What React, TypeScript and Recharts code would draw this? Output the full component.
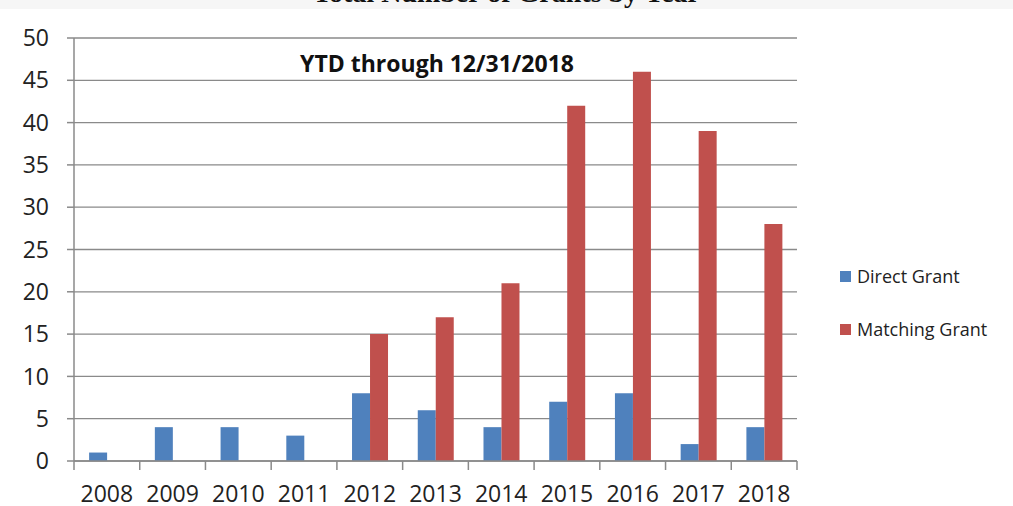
import React from 'react';
import { BarChart, Bar, XAxis, YAxis, CartesianGrid, Legend } from 'recharts';

const years = ['2008', '2009', '2010', '2011', '2012', '2013', '2014', '2015', '2016', '2017', '2018'];
const directGrant = [1, 4, 4, 3, 8, 6, 4, 7, 8, 2, 4];
const matchingGrant = [0, 0, 0, 0, 15, 17, 21, 42, 46, 39, 28];
const yTicks = [0, 5, 10, 15, 20, 25, 30, 35, 40, 45, 50];

const data = years.map((year, i) => ({
  year,
  direct: directGrant[i],
  matching: matchingGrant[i],
}));

const FONT = '"Open Sans", "DejaVu Sans", sans-serif';
const AXIS_GRAY = '#8a8a8a';
const X_TICK_MARGIN = 25;
const EDGE_TICK = 9;

// year label plus the tick marks that sit on the band edges (Excel style)
const YearTick = (props: any) => {
  const { x, y, payload, index, visibleTicksCount, width } = props;
  const half = payload && typeof payload.offset === 'number' ? payload.offset : width / visibleTicksCount / 2;
  const axisY = y - X_TICK_MARGIN;
  const isLast = index === visibleTicksCount - 1;
  return (
    <g>
      <line x1={x - half} x2={x - half} y1={axisY} y2={axisY + EDGE_TICK} stroke={AXIS_GRAY} strokeWidth={1.5} />
      {isLast && (
        <line x1={x + half} x2={x + half} y1={axisY} y2={axisY + EDGE_TICK} stroke={AXIS_GRAY} strokeWidth={1.5} />
      )}
      <text x={x} y={y} dy="0.71em" textAnchor="middle" fontFamily={FONT} fontSize={23} fill="#222">
        {payload.value}
      </text>
    </g>
  );
};

const renderLegend = (props: any) => {
  const { payload } = props;
  return (
    <div style={{ fontFamily: FONT, fontSize: 18, color: '#222' }}>
      {(payload || []).map((entry: any, idx: number) => (
        <div key={idx} style={{ display: 'flex', alignItems: 'center', height: 26, marginBottom: 27 }}>
          <span style={{ display: 'inline-block', width: 11, height: 11, background: entry.color, marginRight: 6 }} />
          <span>{entry.value}</span>
        </div>
      ))}
    </div>
  );
};

const App: React.FC = () => {
  return (
    <div style={{ position: 'fixed', left: 0, top: 0, width: 1013, height: 506, background: '#fff', overflow: 'hidden' }}>
      <div style={{ position: 'absolute', left: 0, top: 0, width: 1013, height: 9, background: '#f6f6f6' }} />
      <div
        style={{
          position: 'absolute', left: 0, width: 1013, top: -25, textAlign: 'center',
          fontFamily: '"Liberation Serif", serif', fontWeight: 'bold', fontSize: 28, lineHeight: '36px', color: '#111',
          height: 34, overflow: 'hidden',
        }}
      >
        Total Number of Grants by Year
      </div>
      <BarChart
        width={1013}
        height={506}
        data={data}
        margin={{ top: 38, right: 216, bottom: 0, left: 0 }}
        barCategoryGap="23%"
        barGap={0}
        style={{ position: 'absolute', left: 0, top: 0 }}
      >
        <CartesianGrid vertical={false} stroke={AXIS_GRAY} strokeWidth={1.3} />
        <XAxis
          dataKey="year"
          height={45}
          stroke={AXIS_GRAY}
          strokeWidth={1.5}
          tickLine={false}
          tickSize={0}
          tickMargin={X_TICK_MARGIN}
          tick={<YearTick />}
          interval={0}
        />
        <YAxis
          width={74}
          domain={[0, 50]}
          ticks={yTicks}
          tickSize={7}
          tickMargin={18}
          stroke={AXIS_GRAY}
          strokeWidth={1.5}
          tick={{ fontFamily: FONT, fontSize: 23, fill: '#222' }}
        />
        <Legend
          layout="horizontal"
          align="center"
          verticalAlign="middle"
          content={renderLegend}
          wrapperStyle={{ left: 840, top: 263, width: 170 }}
        />
        <Bar dataKey="direct" name="Direct Grant" fill="#4f81bd" isAnimationActive={false} />
        <Bar dataKey="matching" name="Matching Grant" fill="#c0504d" isAnimationActive={false} />
      </BarChart>
      <div
        style={{
          position: 'absolute', left: 437, top: 47, transform: 'translateX(-50%)', whiteSpace: 'nowrap',
          fontFamily: FONT, fontWeight: 'bold', fontSize: 23, color: '#111',
        }}
      >
        YTD through 12/31/2018
      </div>
    </div>
  );
};

export default App;
